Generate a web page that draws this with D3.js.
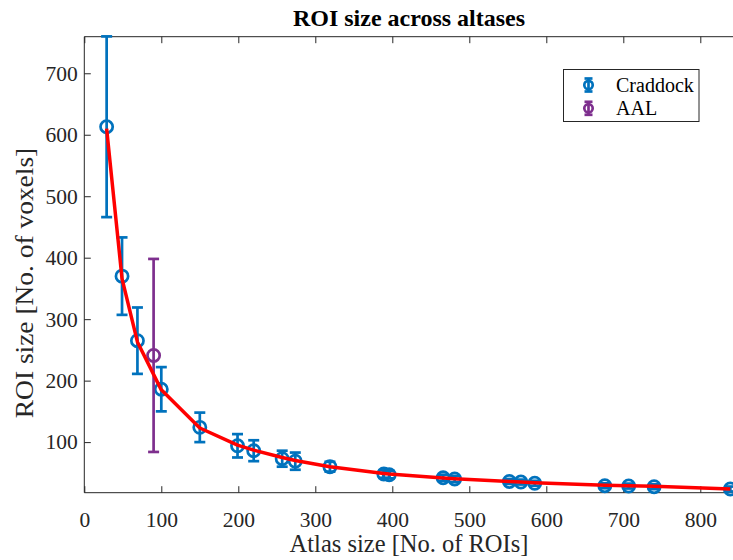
<!DOCTYPE html>
<html>
<head>
<meta charset="utf-8">
<script src="https://cdn.jsdelivr.net/npm/d3@7"></script>
<style>
  html, body { margin: 0; padding: 0; background: #fff; }
  svg { display: block; }
  svg text { font-family: "Liberation Serif", "Times New Roman", serif; }
</style>
</head>
<body>
<svg id="chart" width="733" height="560"></svg>
<script>
// Craddock parcellations: number of ROIs, mean ROI size and spread
const craddockSize = [29, 49, 69, 100, 150, 199, 220, 257, 274, 319, 389, 396, 466, 481, 552, 567, 585, 676, 707, 740, 839];
const craddockMean = [613, 370, 265, 186, 124, 94, 86, 73, 69, 60, 48, 47, 42, 40, 36, 35, 33, 29, 28.5, 27.5, 23.7];
const craddockErr  = [147, 63, 54, 36, 24, 19, 17, 13, 14, 8, 6, 6, 5, 5, 4, 4, 4, 4, 4, 4, 4];

// AAL atlas
const aalSize = [90];
const aalMean = [241];
const aalErr  = [157];

// Fitted curve evaluated at the Craddock atlas sizes
const fitSize  = [29, 49, 69, 100, 150, 199, 220, 257, 274, 319, 389, 396, 466, 481, 552, 567, 585, 676, 707, 740, 839];
const fitValue = [610, 366, 263, 185, 123, 95, 87, 75, 70, 60, 49, 48, 41.6, 40.5, 36, 35, 34, 30, 29, 28, 23.7];

const xTicks = [0, 100, 200, 300, 400, 500, 600, 700, 800];
const yTicks = [100, 200, 300, 400, 500, 600, 700];

const svg = d3.select("#chart");
const plotLeft = 84.3, plotRight = 738.8, plotTop = 36.7, plotBottom = 492.7;

const x = d3.scaleLinear().domain([0, 850]).range([plotLeft, plotRight]);
const y = d3.scaleLinear().domain([17.7, 759.5]).range([plotBottom, plotTop]);

const axisColor = "#262626";
const tickLen = 6.5;
const serif = "'Liberation Serif', 'Times New Roman', serif";

// axes box (bottom, left, top)
const ax = svg.append("g").attr("stroke", axisColor).attr("stroke-width", 1).attr("fill", "none");
ax.append("line").attr("x1", plotLeft).attr("x2", plotRight).attr("y1", plotBottom).attr("y2", plotBottom);
ax.append("line").attr("x1", plotLeft).attr("x2", plotLeft).attr("y1", plotTop).attr("y2", plotBottom);
ax.append("line").attr("x1", plotLeft).attr("x2", plotRight).attr("y1", plotTop).attr("y2", plotTop);

// x axis ticks (inward), mirrored on top
const xAxis = d3.axisBottom(x).tickValues(xTicks).tickSize(-tickLen).tickPadding(19).tickFormat(d3.format("d"));
const gx = svg.append("g").attr("transform", `translate(0,${plotBottom})`).call(xAxis);
gx.select(".domain").remove();
gx.selectAll("line").attr("stroke", axisColor);
gx.selectAll("text").attr("fill", "#262626").style("font-size", "21.5px").style("font-family", serif);

const xAxisTop = d3.axisTop(x).tickValues(xTicks).tickSize(-tickLen).tickFormat("");
const gxt = svg.append("g").attr("transform", `translate(0,${plotTop})`).call(xAxisTop);
gxt.select(".domain").remove();
gxt.selectAll("line").attr("stroke", axisColor);

const yAxis = d3.axisLeft(y).tickValues(yTicks).tickSize(-tickLen).tickPadding(6.5).tickFormat(d3.format("d"));
const gy = svg.append("g").attr("transform", `translate(${plotLeft},0)`).call(yAxis);
gy.select(".domain").remove();
gy.selectAll("line").attr("stroke", axisColor);
gy.selectAll("text").attr("fill", "#262626").style("font-size", "21.5px").style("font-family", serif);

// error bar series
function drawSeries(sizes, means, errs, color) {
  const g = svg.append("g").attr("stroke", color).attr("stroke-width", 2.7).attr("fill", "none");
  const cap = 5.5;
  sizes.forEach((s, i) => {
    const cx = x(s), lo = y(means[i] - errs[i]), hi = y(means[i] + errs[i]);
    g.append("line").attr("x1", cx).attr("x2", cx).attr("y1", lo).attr("y2", hi);
    g.append("line").attr("x1", cx - cap).attr("x2", cx + cap).attr("y1", lo).attr("y2", lo);
    g.append("line").attr("x1", cx - cap).attr("x2", cx + cap).attr("y1", hi).attr("y2", hi);
    g.append("circle").attr("cx", cx).attr("cy", y(means[i])).attr("r", 6.1);
  });
}
drawSeries(craddockSize, craddockMean, craddockErr, "#0072BD");
drawSeries(aalSize, aalMean, aalErr, "#7E2F8E");

// fitted curve
svg.append("path")
  .datum(fitSize.map((s, i) => [s, fitValue[i]]))
  .attr("fill", "none")
  .attr("stroke", "#FF0000")
  .attr("stroke-width", 3.5)
  .attr("stroke-linejoin", "round")
  .attr("d", d3.line().x(d => x(d[0])).y(d => y(d[1])));

// title and axis labels
svg.append("text").attr("x", 409).attr("y", 26).attr("text-anchor", "middle")
  .style("font-size", "24px").attr("font-weight", "bold").attr("fill", "#000")
  .text("ROI size across altases");
svg.append("text").attr("x", 409).attr("y", 552).attr("text-anchor", "middle")
  .style("font-size", "24.5px").attr("fill", "#262626")
  .text("Atlas size [No. of ROIs]");
svg.append("text").attr("transform", "translate(33,283) rotate(-90) scale(1.12,1)").attr("text-anchor", "middle")
  .style("font-size", "24.5px").attr("fill", "#262626")
  .text("ROI size [No. of voxels]");

// legend
const legend = svg.append("g");
legend.append("rect").attr("x", 563.5).attr("y", 69.5).attr("width", 135.5).attr("height", 52)
  .attr("fill", "#fff").attr("stroke", "#262626").attr("stroke-width", 1);
const legendItems = [{ name: "Craddock", color: "#0072BD" }, { name: "AAL", color: "#7E2F8E" }];
legendItems.forEach((d, i) => {
  const cy = 85 + i * 23.3, cx = 588.5;
  const g = legend.append("g").attr("stroke", d.color).attr("stroke-width", 2.7).attr("fill", "none");
  g.append("line").attr("x1", cx).attr("x2", cx).attr("y1", cy - 6.5).attr("y2", cy + 6.5);
  g.append("line").attr("x1", cx - 4).attr("x2", cx + 4).attr("y1", cy - 6.5).attr("y2", cy - 6.5);
  g.append("line").attr("x1", cx - 4).attr("x2", cx + 4).attr("y1", cy + 6.5).attr("y2", cy + 6.5);
  g.append("circle").attr("cx", cx).attr("cy", cy).attr("r", 4.2);
  legend.append("text").attr("x", 616).attr("y", cy + 6.5).style("font-size", "20px").attr("fill", "#000").text(d.name);
});
</script>
</body>
</html>
